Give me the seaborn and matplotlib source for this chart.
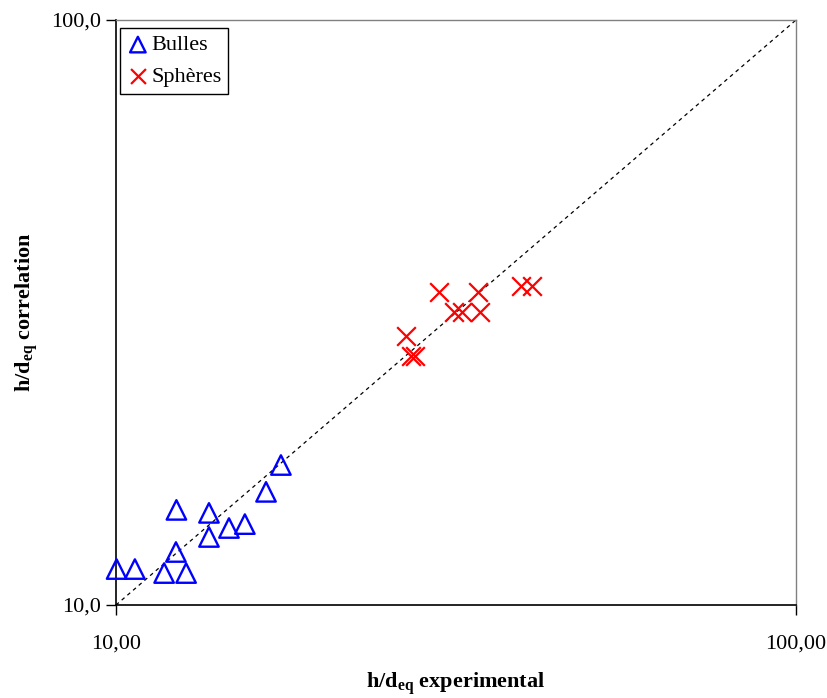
import matplotlib
matplotlib.use("Agg")
import matplotlib.pyplot as plt
import pandas as pd
import seaborn as sns

# valeurs
bulles_exp = [10.02, 10.66, 11.77, 12.68, 12.25, 12.27, 13.70, 13.70, 14.66, 15.47, 16.62, 17.48]
bulles_corr = [11.52, 11.52, 11.34, 11.34, 12.32, 14.54, 14.37, 13.07, 13.54, 13.75, 15.61, 17.35]
spheres_exp = [29.85, 34.07, 31.41, 32.28, 34.30, 26.70, 27.16, 27.53, 39.41, 40.90]
spheres_corr = [34.28, 34.28, 31.69, 31.69, 31.69, 28.83, 26.65, 26.65, 35.10, 35.10]
x_ticks = [10, 100]
x_ticklabels = ["10,00", "100,00"]
y_ticklabels = ["10,0", "100,0"]

sns.set_style("white")
plt.rcParams["font.family"] = ["Liberation Serif", "DejaVu Serif"]
plt.rcParams["mathtext.fontset"] = "custom"
plt.rcParams["mathtext.rm"] = "Liberation Serif"
plt.rcParams["mathtext.bf"] = "Liberation Serif:bold"
plt.rcParams["text.color"] = "black"
plt.rcParams["axes.labelcolor"] = "black"
plt.rcParams["xtick.color"] = "black"
plt.rcParams["ytick.color"] = "black"

bulles = pd.DataFrame({"exp": bulles_exp, "corr": bulles_corr})
spheres = pd.DataFrame({"exp": spheres_exp, "corr": spheres_corr})

fig = plt.figure(figsize=(8.28, 6.98), dpi=100)
ax = fig.add_axes([116 / 828, 93 / 698, 680 / 828, 585 / 698])

ax.plot(x_ticks, x_ticks, color="black", linestyle=(0, (3, 3)), linewidth=0.9, zorder=1)

sns.scatterplot(data=bulles, x="exp", y="corr", marker="^", s=196, ax=ax, label="Bulles",
                zorder=3, clip_on=False)
sns.scatterplot(data=spheres, x="exp", y="corr", marker="x", s=180, ax=ax, label="Sphères",
                zorder=3, clip_on=False)
ax.collections[0].set_facecolor("none")
ax.collections[0].set_edgecolor("#0000ff")
ax.collections[0].set_linewidth(1.7)
ax.collections[1].set_facecolor("#ff0000")
ax.collections[1].set_edgecolor("#ff0000")
ax.collections[1].set_linewidth(1.6)

ax.set_xscale("log")
ax.set_yscale("log")
ax.set_xlim(10, 100)
ax.set_ylim(10, 100)
ax.minorticks_off()
ax.set_xticks(x_ticks)
ax.set_xticklabels(x_ticklabels)
ax.set_yticks(x_ticks)
ax.set_yticklabels(y_ticklabels)
ax.tick_params(axis="both", which="major", direction="out", length=7, width=1,
               color="black", labelcolor="black", labelsize=16, left=True, bottom=True)
ax.tick_params(axis="x", pad=14)
ax.tick_params(axis="y", pad=4)

for side in ["left", "bottom"]:
    ax.spines[side].set_color("black")
    ax.spines[side].set_linewidth(1.2)
for side in ["top", "right"]:
    ax.spines[side].set_color("#808080")
    ax.spines[side].set_linewidth(1.0)

ax.set_xlabel(r"h/d$_{\mathbf{eq}}$ experimental", fontsize=16, fontweight="bold", labelpad=13)
ax.set_ylabel(r"h/d$_{\mathbf{eq}}$ correlation", fontsize=16, fontweight="bold", labelpad=7)

leg = ax.legend(loc="upper left", bbox_to_anchor=(0.006, 0.986), fontsize=16, markerscale=0.8,
                handletextpad=0.1, handlelength=1.0, borderpad=0.3, labelspacing=0.5,
                fancybox=False, framealpha=1, edgecolor="black", borderaxespad=0.0)
leg.get_frame().set_linewidth(1.0)
for t in leg.get_texts():
    t.set_color("black")

fig.savefig("out.png", dpi=100)
